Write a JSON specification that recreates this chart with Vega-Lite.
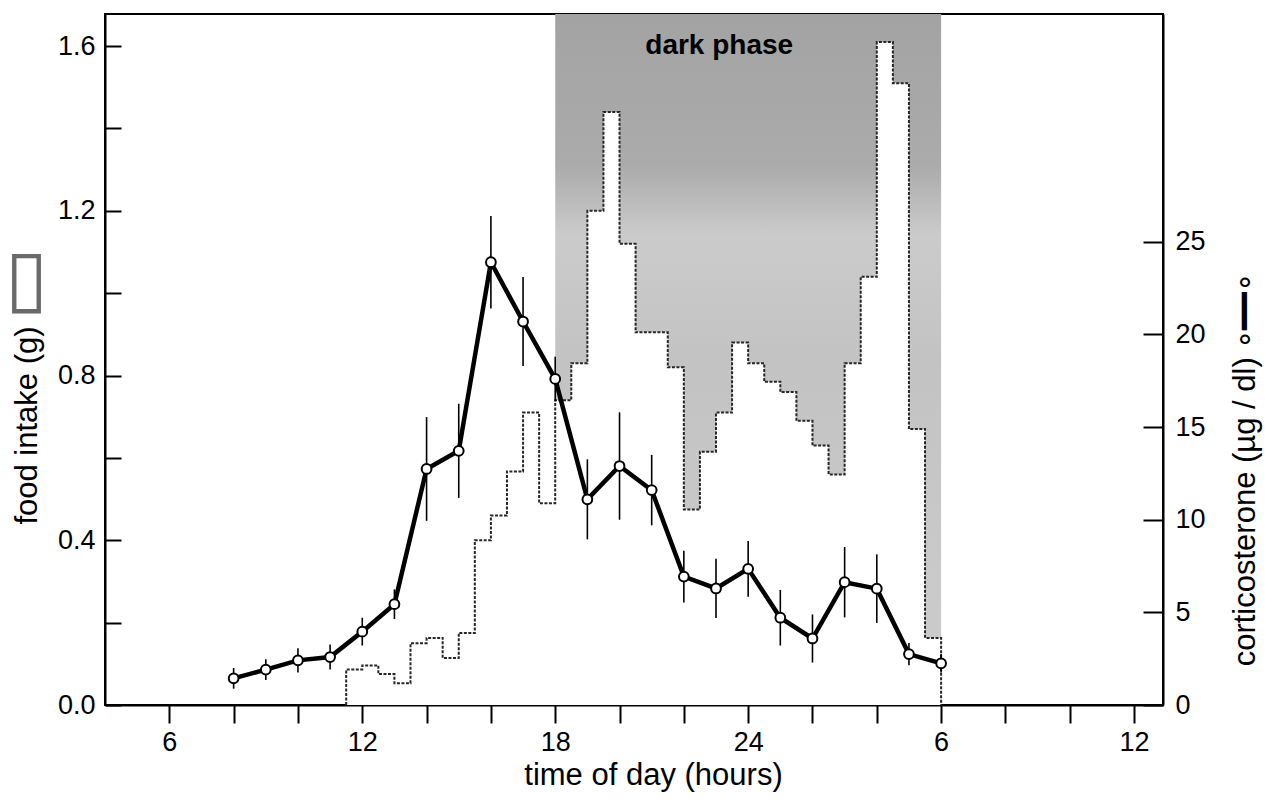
{
  "$schema": "https://vega.github.io/schema/vega-lite/v6.json",
  "width": 1058,
  "height": 691,
  "autosize": {"type": "none"},
  "padding": {"left": 105, "top": 14, "right": 108, "bottom": 103},
  "background": "white",
  "config": {
    "view": {"stroke": "black", "strokeWidth": 2},
    "font": "Liberation Sans",
    "axis": {
      "labelFont": "Liberation Sans",
      "titleFont": "Liberation Sans",
      "labelColor": "black",
      "titleColor": "black",
      "domainColor": "black",
      "tickColor": "black",
      "titleFontWeight": "normal",
      "grid": false,
      "domainWidth": 2,
      "tickWidth": 2,
      "labelFontSize": 27,
      "titleFontSize": 31
    }
  },
  "datasets": {
    "food": [
      {"t": 11.5, "g": 0}, {"t": 11.5, "g": 0.086}, {"t": 12, "g": 0.096}, {"t": 12.5, "g": 0.075},
      {"t": 13, "g": 0.053}, {"t": 13.5, "g": 0.15}, {"t": 14, "g": 0.163}, {"t": 14.5, "g": 0.114},
      {"t": 15, "g": 0.175}, {"t": 15.5, "g": 0.40}, {"t": 16, "g": 0.46}, {"t": 16.5, "g": 0.567},
      {"t": 17, "g": 0.71}, {"t": 17.5, "g": 0.49}, {"t": 18, "g": 0.74}, {"t": 18.5, "g": 0.83},
      {"t": 19, "g": 1.20}, {"t": 19.5, "g": 1.44}, {"t": 20, "g": 1.12}, {"t": 20.5, "g": 0.905},
      {"t": 21, "g": 0.905}, {"t": 21.5, "g": 0.82}, {"t": 22, "g": 0.475}, {"t": 22.5, "g": 0.615},
      {"t": 23, "g": 0.71}, {"t": 23.5, "g": 0.88}, {"t": 24, "g": 0.83}, {"t": 24.5, "g": 0.785},
      {"t": 25, "g": 0.76}, {"t": 25.5, "g": 0.69}, {"t": 26, "g": 0.63}, {"t": 26.5, "g": 0.56},
      {"t": 27, "g": 0.83}, {"t": 27.5, "g": 1.04}, {"t": 28, "g": 1.61}, {"t": 28.5, "g": 1.51},
      {"t": 29, "g": 0.67}, {"t": 29.5, "g": 0.163}, {"t": 30, "g": 0.163}, {"t": 30, "g": 0}
    ],
    "cort": [
      {"t": 8, "c": 1.44, "e": 0.56}, {"t": 9, "c": 1.91, "e": 0.56}, {"t": 10, "c": 2.41, "e": 0.65},
      {"t": 11, "c": 2.59, "e": 0.68}, {"t": 12, "c": 3.96, "e": 0.75}, {"t": 13, "c": 5.44, "e": 0.8},
      {"t": 14, "c": 12.74, "e": 2.8}, {"t": 15, "c": 13.72, "e": 2.54}, {"t": 16, "c": 23.9, "e": 2.5},
      {"t": 17, "c": 20.7, "e": 2.4}, {"t": 18, "c": 17.6, "e": 1.2}, {"t": 19, "c": 11.1, "e": 2.16},
      {"t": 20, "c": 12.9, "e": 2.9}, {"t": 21, "c": 11.6, "e": 1.9}, {"t": 22, "c": 6.93, "e": 1.4},
      {"t": 23, "c": 6.29, "e": 1.6}, {"t": 24, "c": 7.35, "e": 1.5}, {"t": 25, "c": 4.71, "e": 1.5},
      {"t": 26, "c": 3.59, "e": 1.3}, {"t": 27, "c": 6.63, "e": 1.9}, {"t": 28, "c": 6.28, "e": 1.85},
      {"t": 29, "c": 2.75, "e": 0.6}, {"t": 30, "c": 2.25, "e": 0.5}
    ]
  },
  "resolve": {"scale": {"y": "independent"}},
  "layer": [
    {
      "data": {"values": [{"phase": "dark"}]},
      "mark": {
        "type": "rect",
        "fill": {
          "gradient": "linear", "x1": 0, "y1": 0, "x2": 0, "y2": 1,
          "stops": [
            {"offset": 0, "color": "#a3a3a3"},
            {"offset": 0.22, "color": "#ababab"},
            {"offset": 0.32, "color": "#cbcbcb"},
            {"offset": 0.5, "color": "#c3c3c3"},
            {"offset": 1, "color": "#cdcdcd"}
          ]
        }
      },
      "encoding": {
        "x": {"datum": 18, "type": "quantitative", "scale": {"domain": [4, 36.9], "nice": false, "zero": false}},
        "x2": {"datum": 30}
      }
    },
    {
      "data": {"name": "food"},
      "encoding": {
        "x": {
          "field": "t", "type": "quantitative",
          "scale": {"domain": [4, 36.9], "nice": false, "zero": false},
          "axis": {
            "values": [6, 8, 10, 12, 14, 16, 18, 20, 22, 24, 26, 28, 30, 32, 34, 36],
            "labelExpr": "datum.value % 6 == 0 ? '' + (datum.value > 24 ? datum.value - 24 : datum.value) : ''",
            "tickSize": 18, "labelPadding": 6, "labelFlush": false, "labelOverlap": false,
            "title": "time of day (hours)", "titlePadding": 5, "titleX": 548
          }
        },
        "y": {
          "field": "g", "type": "quantitative", "stack": null,
          "scale": {"domain": [0, 1.678], "nice": false, "zero": true},
          "axis": {
            "orient": "left",
            "values": [0, 0.2, 0.4, 0.6, 0.8, 1.0, 1.2, 1.4, 1.6],
            "labelExpr": "round(datum.value * 10) % 4 == 0 ? format(datum.value, '.1f') : ''",
            "tickSize": -16, "labelPadding": 26, "labelOverlap": false,
            "title": "food intake (g)",
            "titleAngle": 270, "titleAlign": "center", "titleBaseline": "middle",
            "titleX": -78, "titleY": 411
          }
        }
      },
      "layer": [
        {
          "transform": [{"filter": "datum.g > 0"}],
          "mark": {"type": "area", "interpolate": "step-after", "fill": "white", "opacity": 1}
        },
        {
          "mark": {"type": "line", "interpolate": "step-after", "stroke": "#262626", "strokeWidth": 2, "strokeDash": [3, 1.5]},
          "encoding": {"order": {"value": null}}
        }
      ]
    },
    {
      "data": {"values": [{"v": 0}]},
      "mark": {"type": "point", "opacity": 0},
      "encoding": {
        "y": {
          "field": "v", "type": "quantitative", "scale": {"domain": [0, 1]},
          "axis": {
            "orient": "left", "title": "▯", "titleFont": "DejaVu Sans", "titleFontSize": 78, "titleColor": "#6a6a6a",
            "labels": false, "ticks": false, "domain": false,
            "titleAngle": 0, "titleAlign": "center", "titleBaseline": "middle",
            "titleX": -79, "titleY": 266
          }
        }
      }
    },
    {
      "data": {"values": [{"label": "dark phase"}]},
      "mark": {"type": "text", "fontSize": 28, "fontWeight": "bold", "font": "Liberation Sans", "color": "black", "align": "center", "baseline": "middle"},
      "encoding": {
        "text": {"field": "label", "type": "nominal"},
        "x": {"datum": 23.1, "type": "quantitative"},
        "y": {"datum": 1.6, "type": "quantitative", "scale": {"domain": [0, 1.678], "nice": false, "zero": true}, "axis": null}
      }
    },
    {
      "data": {"name": "cort"},
      "encoding": {
        "x": {
          "field": "t", "type": "quantitative",
          "scale": {"domain": [4, 36.9], "nice": false, "zero": false},
          "axis": {
            "values": [6, 8, 10, 12, 14, 16, 18, 20, 22, 24, 26, 28, 30, 32, 34, 36],
            "labelExpr": "datum.value % 6 == 0 ? '' + (datum.value > 24 ? datum.value - 24 : datum.value) : ''",
            "tickSize": 18, "labelPadding": 6, "labelFlush": false, "labelOverlap": false,
            "title": "time of day (hours)", "titlePadding": 5, "titleX": 548
          }
        },
        "y": {
          "field": "c", "type": "quantitative",
          "scale": {"domain": [0, 37.3], "nice": false, "zero": true},
          "axis": {
            "orient": "right",
            "values": [0, 5, 10, 15, 20, 25],
            "tickSize": -20, "labelPadding": 32, "labelOverlap": false,
            "title": "corticosterone (µg / dl)  ∘━━∘",
            "titleAngle": 270, "titleAlign": "center", "titleBaseline": "middle",
            "titleX": 82, "titleY": 455
          }
        }
      },
      "layer": [
        {
          "mark": {"type": "errorbar", "thickness": 1.6, "color": "black"},
          "encoding": {"yError": {"field": "e"}}
        },
        {
          "mark": {"type": "line", "color": "black", "strokeWidth": 4.5}
        },
        {
          "mark": {"type": "point", "shape": "circle", "filled": true, "fill": "white", "stroke": "black", "strokeWidth": 2, "size": 95, "opacity": 1}
        }
      ]
    }
  ]
}
